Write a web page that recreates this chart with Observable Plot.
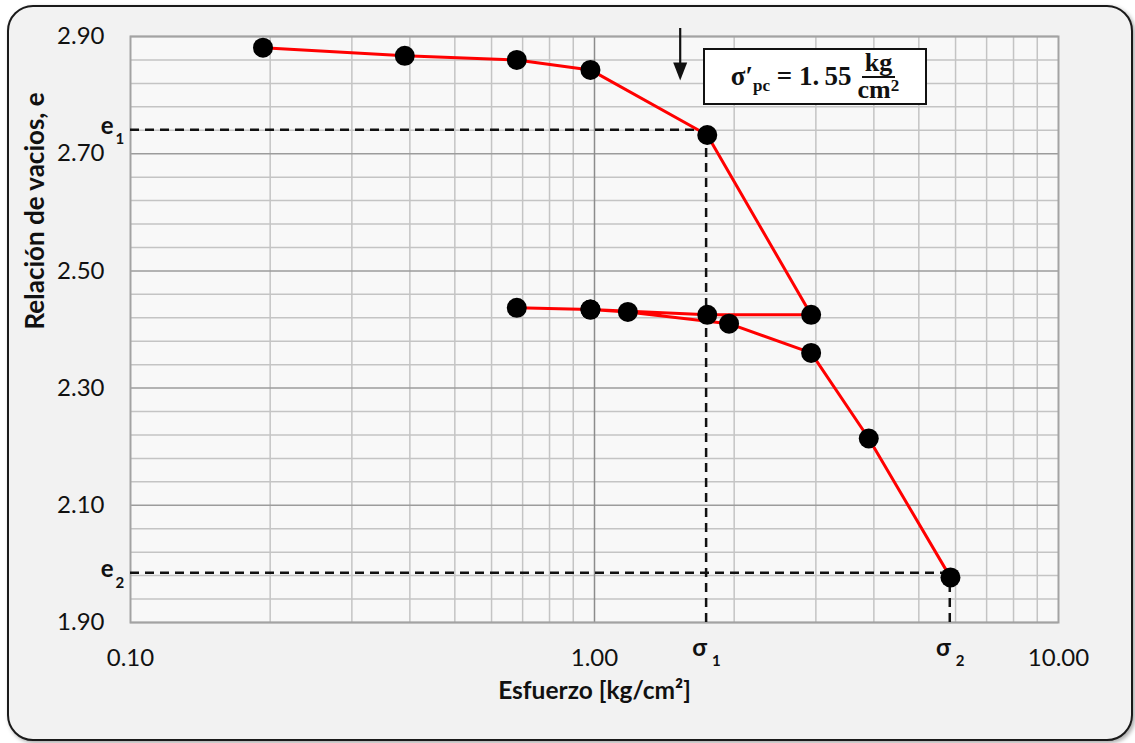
<!DOCTYPE html>
<html>
<head>
<meta charset="utf-8">
<script src="https://cdn.jsdelivr.net/npm/d3@7"></script>
<script src="https://cdn.jsdelivr.net/npm/@observablehq/plot@0.6"></script>
<style>
  html, body { margin: 0; padding: 0; background: #ffffff; }
  #wrap { position: relative; width: 1135px; height: 743px; overflow: hidden; }
  #frame { position: absolute; left: 7px; top: 5px; width: 1126px; height: 736px; box-sizing: border-box;
           border: 2.5px solid #1a1a1a; border-radius: 26px; background: #f2f2f2;
           box-shadow: 2px 2px 4px rgba(0,0,0,0.35); }
  #chart { position: absolute; left: 0; top: 0; }
  #note { position: absolute; left: 703px; top: 48px; width: 224px; height: 57px; box-sizing: border-box;
          border: 2px solid #111; background: #ffffff; display: flex; align-items: center; justify-content: center;
          font-family: "Liberation Serif", "DejaVu Serif", serif; font-weight: bold; font-size: 27px; color: #111; }
  #note sub { font-size: 17px; vertical-align: -6px; line-height: 0; }
  .frac { display: inline-flex; flex-direction: column; align-items: center; margin-left: 6px; line-height: 0.86; font-size: 26px; }
  .frac .num { padding: 0 3px 1px 3px; border-bottom: 2px solid #111; }
  .frac .den { padding-top: 1px; }
  .frac sup { font-size: 17px; vertical-align: 7px; line-height: 0; }
</style>
</head>
<body>
<div id="wrap">
  <div id="frame"></div>
  <div id="chart"></div>
  <div id="note"><span>σ′<sub>pc</sub> = 1.&thinsp;55</span><span class="frac"><span class="num">kg</span><span class="den">cm<sup>2</sup></span></span></div>
</div>
<script>
// ---- data ----
const stress    = [0.193, 0.39, 0.68, 0.98, 1.75, 2.93, 1.75, 0.98, 0.68, 0.98, 1.18, 1.95, 2.93, 3.9, 5.85];
const voidRatio = [2.881, 2.867, 2.860, 2.843, 2.732, 2.425, 2.425, 2.434, 2.437, 2.434, 2.430, 2.410, 2.360, 2.214, 1.977];

const xTicks = [0.1, 1, 10];
const yTicks = [1.90, 2.10, 2.30, 2.50, 2.70, 2.90];
const xMinorGrid = [0.2, 0.3, 0.4, 0.5, 0.6, 0.7, 0.8, 0.9, 2, 3, 4, 5, 6, 7, 8, 9];
const xDecadeGrid = [1];
const yMinorGrid = d3.range(0, 26).map(i => +(1.9 + i * 0.04).toFixed(2)).filter(v => !yTicks.some(t => Math.abs(t - v) < 1e-9));

const e1 = 2.741, e2 = 1.985;
const sigma1 = 1.74, sigma2 = 5.83;
const sigmaPc = 1.53, arrowTop = 2.90, arrowTip = 2.825;
const xMin = 0.1, yMin = 1.90;

const table = stress.map((s, i) => ({s, e: voidRatio[i]}));

const refH = [{y: e1, x1: xMin, x2: sigma1}, {y: e2, x1: xMin, x2: sigma2}];
const refV = [{x: sigma1, y1: yMin, y2: e1}, {x: sigma2, y1: yMin, y2: e2}];

const eLabels = [{y: e1, t: "1"}, {y: e2, t: "2"}];
const sLabels = [{x: sigma1, t: "1"}, {x: sigma2, t: "2"}];

const headSymbol = {draw(ctx) { ctx.moveTo(0, 0); ctx.lineTo(-7, -18); ctx.lineTo(7, -18); ctx.closePath(); }};

const font = "Lato, 'Open Sans', 'Noto Sans', sans-serif";

const chart = Plot.plot({
  width: 1135, height: 743,
  marginLeft: 130, marginRight: 77, marginTop: 36, marginBottom: 121,
  style: {background: "transparent", fontFamily: font, color: "#111", overflow: "visible"},
  x: {type: "log", domain: [0.1, 10]},
  y: {domain: [1.9, 2.9]},
  marks: [
    Plot.frame({fill: "#f8f8f8", stroke: "none"}),
    Plot.ruleX(xMinorGrid, {stroke: "#c4c4c4", strokeWidth: 1.5}),
    Plot.ruleY(yMinorGrid, {stroke: "#c4c4c4", strokeWidth: 1.5}),
    Plot.ruleY(yTicks, {stroke: "#9c9c9c", strokeWidth: 1.5}),
    Plot.ruleX(xDecadeGrid, {stroke: "#8c8c8c", strokeWidth: 1.5}),
    Plot.frame({stroke: "#a3a3a3", strokeWidth: 2}),
    Plot.ruleY(refH, {y: "y", x1: "x1", x2: "x2", stroke: "#111", strokeWidth: 2.5, strokeDasharray: "9,6"}),
    Plot.ruleX(refV, {x: "x", y1: "y1", y2: "y2", stroke: "#111", strokeWidth: 2.5, strokeDasharray: "9,6"}),
    Plot.ruleX([{x: sigmaPc, y1: arrowTop, y2: arrowTip}], {x: "x", y1: "y1", y2: "y2", stroke: "#111", strokeWidth: 2.2, dy: -8}),
    Plot.dot([{x: sigmaPc, y: arrowTip}], {x: "x", y: "y", symbol: headSymbol, fill: "#111", stroke: "none", r: 8}),
    Plot.line(table, {x: "s", y: "e", stroke: "#ff0000", strokeWidth: 3}),
    Plot.dot(table, {x: "s", y: "e", r: 10, fill: "#000", stroke: "none"}),
    Plot.axisY(yTicks, {tickSize: 0, tickPadding: 26, tickFormat: d => d.toFixed(2), fontSize: 24, label: null}),
    Plot.axisX(xTicks, {tickSize: 0, tickPadding: 26, tickFormat: d => d.toFixed(2), fontSize: 24, label: null}),
    Plot.text(["Relación de vacios, e"], {frameAnchor: "left", dx: -95, rotate: -90, fontSize: 26, fontWeight: "bold", fill: "#111"}),
    Plot.text(["Esfuerzo [kg/cm²]"], {frameAnchor: "bottom", dy: 76, fontSize: 24.5, fontWeight: "bold", fill: "#111"}),
    Plot.text(eLabels, {x: () => xMin, y: "y", text: () => "e", dx: -17, dy: -3, textAnchor: "end", fontSize: 24, fontWeight: "bold", fill: "#111"}),
    Plot.text(eLabels, {x: () => xMin, y: "y", text: "t", dx: -15, dy: 10, textAnchor: "start", fontSize: 15, fontWeight: "bold", fill: "#111"}),
    Plot.text(sLabels, {x: "x", y: () => yMin, text: () => "σ", dx: 1, dy: 26, textAnchor: "end", fontSize: 24, fontWeight: "bold", fill: "#111"}),
    Plot.text(sLabels, {x: "x", y: () => yMin, text: "t", dx: 6, dy: 39, textAnchor: "start", fontSize: 15, fontWeight: "bold", fill: "#111"})
  ]
});
document.getElementById("chart").appendChild(chart);
</script>
</body>
</html>
